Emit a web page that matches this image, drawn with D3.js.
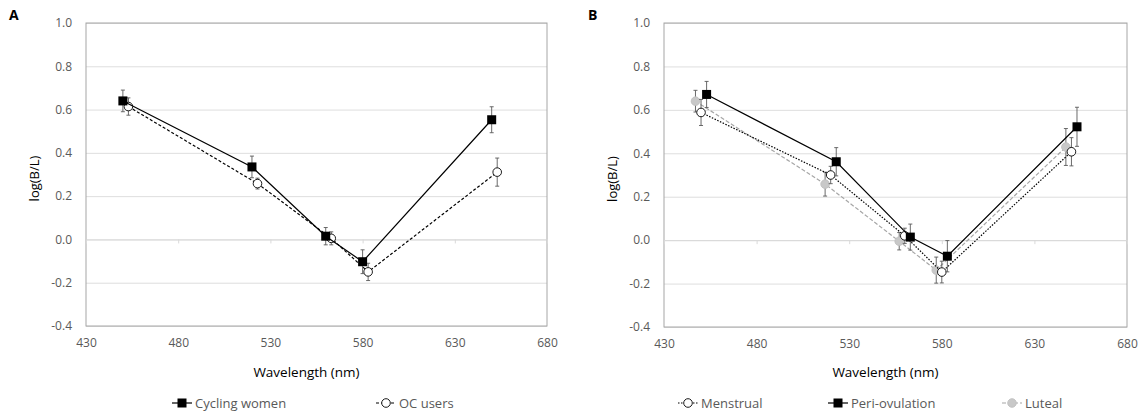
<!DOCTYPE html>
<html>
<head>
<meta charset="utf-8">
<script src="https://cdn.jsdelivr.net/npm/d3@7"></script>
<style>
  body { margin: 0; background: #fff; }
  text { font-family: "Open Sans", "Noto Sans", sans-serif; }
</style>
</head>
<body>
<script>
   // chart values
   let yTicks = [-0.4, -0.2, 0.0, 0.2, 0.4, 0.6, 0.8, 1.0];
   let xTicks = [430, 480, 530, 580, 630, 680];

   // panel A
   let cyclingX = [450, 520, 560, 580, 650];
   let cyclingY = [0.64, 0.335, 0.015, -0.103, 0.553];
   let cyclingErr = [0.05, 0.05, 0.04, 0.055, 0.06];
   let ocX = [453, 523, 563, 583, 653];
   let ocY = [0.614, 0.258, 0.005, -0.15, 0.311];
   let ocErr = [0.04, 0.025, 0.03, 0.04, 0.065];

   // panel B
   let menstrualX = [450, 520, 560, 580, 650];
   let menstrualY = [0.588, 0.30, 0.02, -0.147, 0.407];
   let menstrualErr = [0.06, 0.04, 0.035, 0.05, 0.065];
   let periX = [453, 523, 563, 583, 653];
   let periY = [0.671, 0.361, 0.014, -0.074, 0.522];
   let periErr = [0.06, 0.065, 0.06, 0.072, 0.09];
   let lutealX = [447, 517, 557, 577, 647];
   let lutealY = [0.64, 0.258, -0.005, -0.138, 0.429];
   let lutealErr = [0.05, 0.055, 0.04, 0.06, 0.085];

   let width = 1139;
   let height = 417;
   let svg = d3.select('body').append('svg')
      .attr('width', width)
      .attr('height', height);

   let styles = {
      cycling:   { dash: null,  stroke: '#000', marker: 'square', fill: '#000', mstroke: '#000' },
      oc:        { dash: '3,2', stroke: '#000', marker: 'circle', fill: '#fff', mstroke: '#000' },
      menstrual: { dash: '1.5,1.5', stroke: '#000', marker: 'circle', fill: '#fff', mstroke: '#000' },
      peri:      { dash: null,  stroke: '#000', marker: 'square', fill: '#000', mstroke: '#000' },
      luteal:    { dash: '4,2', stroke: '#a6a6a6', marker: 'circle', fill: '#c8c8c8', mstroke: '#bfbfbf' }
   };

   let zip = (xs, ys, es) => xs.map((x, i) => ({ x: x, y: ys[i], e: es[i] }));

   let drawMarker = (g, cx, cy, st) => {
      if (st.marker === 'square') {
         g.append('rect')
            .attr('x', cx - 4.5).attr('y', cy - 4.5)
            .attr('width', 9).attr('height', 9)
            .attr('fill', st.fill);
      } else {
         g.append('circle')
            .attr('cx', cx).attr('cy', cy).attr('r', 4.3)
            .attr('fill', st.fill)
            .attr('stroke', st.mstroke)
            .attr('stroke-width', 0.9);
      }
   }

   let drawPanel = (p) => {
      let g = svg.append('g');
      let xScale = d3.scaleLinear().domain([430, 680]).range([p.left, p.right]);
      let yScale = d3.scaleLinear().domain([-0.4, 1.0]).range([p.bottom, p.top]);

      // gridlines
      g.append('g')
         .attr('transform', 'translate(' + p.left + ',0)')
         .call(d3.axisLeft(yScale).tickValues(yTicks).tickSize(-(p.right - p.left)).tickFormat(''))
         .call(s => s.select('.domain').remove())
         .call(s => s.selectAll('line').attr('stroke', '#dedede').attr('stroke-width', 1));

      // plot border
      g.append('rect')
         .attr('x', p.left).attr('y', p.top)
         .attr('width', p.right - p.left).attr('height', p.bottom - p.top)
         .attr('fill', 'none')
         .attr('stroke', '#a6a6a6')
         .attr('stroke-width', 1);

      // horizontal axis line at zero with tick marks
      g.append('g')
         .attr('transform', 'translate(0,' + yScale(0) + ')')
         .call(d3.axisBottom(xScale).tickValues(xTicks).tickSize(4).tickFormat(''))
         .call(s => s.select('.domain').attr('stroke', '#d9d9d9'))
         .call(s => s.selectAll('line').attr('stroke', '#d9d9d9'));

      // x tick labels
      g.append('g')
         .attr('transform', 'translate(0,' + p.bottom + ')')
         .call(d3.axisBottom(xScale).tickValues(xTicks).tickSize(0).tickPadding(12))
         .call(s => s.select('.domain').remove())
         .call(s => s.selectAll('text').attr('fill', '#595959').style('font-size', '12px')
                    .style('font-family', '"Open Sans", sans-serif'));

      // y tick labels
      g.append('g')
         .attr('transform', 'translate(' + p.left + ',0)')
         .call(d3.axisLeft(yScale).tickValues(yTicks).tickSize(0).tickPadding(14)
               .tickFormat(d => d3.format('.1f')(d).replace('−', '-')))
         .call(s => s.select('.domain').remove())
         .call(s => s.selectAll('text').attr('fill', '#595959').style('font-size', '12px')
                    .style('font-family', '"Open Sans", sans-serif'));

      // axis titles
      g.append('text')
         .attr('x', (p.left + p.right) / 2 - 10)
         .attr('y', 377)
         .attr('text-anchor', 'middle')
         .style('font-size', '13.5px')
         .attr('fill', '#000')
         .text('Wavelength (nm)');
      g.append('text')
         .attr('transform', 'translate(' + (p.left - 47) + ',' + ((p.top + p.bottom) / 2 + 4) + ') rotate(-90)')
         .attr('text-anchor', 'middle')
         .style('font-size', '13px')
         .attr('fill', '#000')
         .text('log(B/L)');

      // panel letter
      g.append('text')
         .attr('x', p.letterX).attr('y', 20)
         .style('font-size', '14px')
         .style('font-weight', 'bold')
         .text(p.letter);

      // series
      let line = d3.line().x(d => xScale(d.x)).y(d => yScale(d.y));
      p.series.forEach(s => {
         let st = styles[s.key];
         let pts = s.data;
         g.append('path')
            .datum(pts)
            .attr('d', line)
            .attr('fill', 'none')
            .attr('stroke', st.stroke)
            .attr('stroke-width', 1.2)
            .attr('stroke-dasharray', st.dash);
         let eb = g.append('g').attr('stroke', '#595959').attr('stroke-width', 0.9);
         pts.forEach(d => {
            let cx = xScale(d.x);
            eb.append('line')
               .attr('x1', cx).attr('x2', cx)
               .attr('y1', yScale(d.y + d.e)).attr('y2', yScale(d.y - d.e));
            eb.append('line')
               .attr('x1', cx - 2).attr('x2', cx + 2)
               .attr('y1', yScale(d.y + d.e)).attr('y2', yScale(d.y + d.e));
            eb.append('line')
               .attr('x1', cx - 2).attr('x2', cx + 2)
               .attr('y1', yScale(d.y - d.e)).attr('y2', yScale(d.y - d.e));
         });
         pts.forEach(d => drawMarker(g, xScale(d.x), yScale(d.y), st));
      });

      // legend
      p.legend.forEach(l => {
         let st = styles[l.key];
         g.append('line')
            .attr('x1', l.x - 10).attr('x2', l.x + 10)
            .attr('y1', 403).attr('y2', 403)
            .attr('stroke', st.stroke)
            .attr('stroke-width', 1.2)
            .attr('stroke-dasharray', st.dash);
         drawMarker(g, l.x, 403, st);
         g.append('text')
            .attr('x', l.x + 13).attr('y', 408)
            .style('font-size', '13px')
            .attr('fill', '#595959')
            .text(l.label);
      });
   }

   drawPanel({
      letter: 'A', letterX: 9,
      left: 86, right: 547, top: 23, bottom: 326,
      series: [
         { key: 'oc', data: zip(ocX, ocY, ocErr) },
         { key: 'cycling', data: zip(cyclingX, cyclingY, cyclingErr) }
      ],
      legend: [
         { key: 'cycling', x: 182, label: 'Cycling women' },
         { key: 'oc', x: 386, label: 'OC users' }
      ]
   });

   drawPanel({
      letter: 'B', letterX: 588,
      left: 664, right: 1127, top: 23, bottom: 327,
      series: [
         { key: 'luteal', data: zip(lutealX, lutealY, lutealErr) },
         { key: 'menstrual', data: zip(menstrualX, menstrualY, menstrualErr) },
         { key: 'peri', data: zip(periX, periY, periErr) }
      ],
      legend: [
         { key: 'menstrual', x: 688, label: 'Menstrual' },
         { key: 'peri', x: 838, label: 'Peri-ovulation' },
         { key: 'luteal', x: 1012, label: 'Luteal' }
      ]
   });
</script>
</body>
</html>
